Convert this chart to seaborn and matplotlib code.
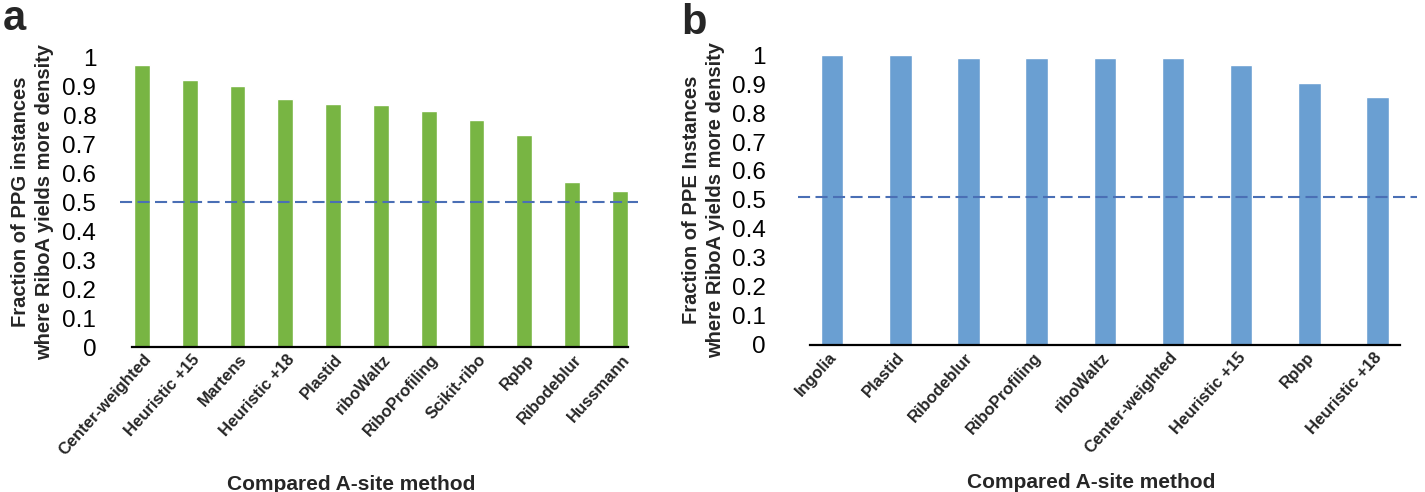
import numpy as np
import pandas as pd
import matplotlib
matplotlib.use("Agg")
import matplotlib.pyplot as plt
import matplotlib.transforms as mtransforms
import seaborn as sns

# panel a: PPG motifs
ppg_methods = ["Center-weighted", "Heuristic +15", "Martens", "Heuristic +18", "Plastid",
               "riboWaltz", "RiboProfiling", "Scikit-ribo", "Rpbp", "Ribodeblur", "Hussmann"]
ppg_fraction = [0.972, 0.921, 0.900, 0.855, 0.838, 0.834, 0.814, 0.783, 0.731, 0.569, 0.538]

# panel b: PPE motifs
ppe_methods = ["Ingolia", "Plastid", "Ribodeblur", "RiboProfiling", "riboWaltz",
               "Center-weighted", "Heuristic +15", "Rpbp", "Heuristic +18"]
ppe_fraction = [1.0, 1.0, 0.99, 0.99, 0.99, 0.99, 0.965, 0.903, 0.855]

y_ticks = [0, 0.1, 0.2, 0.3, 0.4, 0.5, 0.6, 0.7, 0.8, 0.9, 1]
y_tick_labels = ["0", "0.1", "0.2", "0.3", "0.4", "0.5", "0.6", "0.7", "0.8", "0.9", "1"]

sns.set_style("white")
plt.rcParams["font.family"] = ["Liberation Sans", "DejaVu Sans"]

fig = plt.figure(figsize=(14.25, 4.92), dpi=100)


def draw_panel(ax, methods, values, color, ylabel, threshold, xlim, spine_bounds,
               ytick_pad, xlabel_x, ylabel_x, label_shift):
    df = pd.DataFrame({"method": methods, "fraction": values})
    sns.barplot(data=df, x="method", y="fraction", color=color, saturation=1,
                width=0.33, ax=ax)
    ax.axhline(threshold, color="#4A6FB5", lw=1.5, dashes=(5.8, 2.6), zorder=3)
    ax.set_xlim(*xlim)
    ax.set_ylim(0, 1)
    ax.set_yticks(y_ticks)
    ax.set_yticklabels(y_tick_labels, fontsize=17.5)
    ax.tick_params(axis="y", length=0, pad=ytick_pad, colors="black")
    ax.tick_params(axis="x", length=0, pad=7)
    ax.set_xticks(range(len(methods)))
    ax.set_xticklabels(methods, rotation=48, ha="right", va="center",
                       rotation_mode="anchor", fontsize=12, fontweight="bold")
    shift = mtransforms.ScaledTranslation(label_shift / 100, 0, fig.dpi_scale_trans)
    for lab in ax.get_xticklabels():
        lab.set_transform(lab.get_transform() + shift)
    for side in ["top", "right", "left"]:
        ax.spines[side].set_visible(False)
    ax.spines["bottom"].set_color("black")
    ax.spines["bottom"].set_linewidth(1.6)
    ax.spines["bottom"].set_bounds(*spine_bounds)
    ax.set_xlabel("Compared A-site method", fontsize=15, fontweight="bold")
    ax.xaxis.set_label_coords(xlabel_x, -0.44)
    ax.set_ylabel(ylabel, fontsize=14.5, fontweight="bold", linespacing=1.3)
    ax.yaxis.set_label_coords(ylabel_x, 0.5)
    ax.grid(False)


ax_a = fig.add_axes([0.0842, 0.2947, 0.3635, 0.5894])
draw_panel(ax_a, ppg_methods, ppg_fraction, "#78B543",
           "Fraction of PPG instances\nwhere RiboA yields more density",
           0.5, (-0.46, 10.38), (-0.21, 10.17), 17, 0.446, -0.128, 7)

ax_b = fig.add_axes([0.56, 0.2988, 0.4344, 0.5894])
draw_panel(ax_b, ppe_methods, ppe_fraction, "#6A9FD2",
           "Fraction of PPE Instances\nwhere RiboA yields more density",
           0.51, (-0.5, 8.58), (-0.33, 8.33), 23, 0.473, -0.118, 2)

fig.text(0.002, 0.94, "a", fontsize=30, fontweight="bold")
fig.text(0.478, 0.93, "b", fontsize=30, fontweight="bold")

fig.savefig("out.png", dpi=100)
